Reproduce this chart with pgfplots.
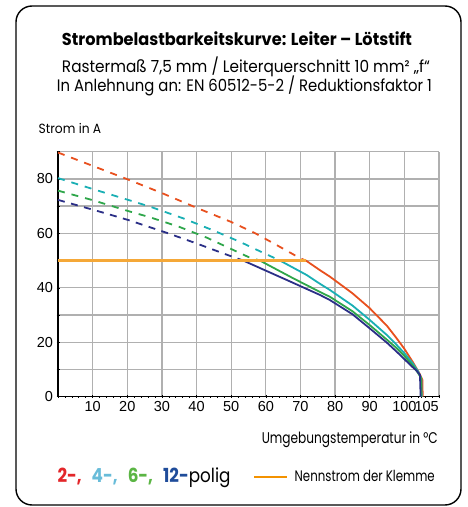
\documentclass[border=0pt]{standalone}
\usepackage{pgfplots}
\pgfplotsset{compat=1.18}
\usepackage{fontspec}
\setmainfont{Poppins}
\newfontfamily\arial{Liberation Sans}
\definecolor{cRed}{HTML}{E8501E}
\definecolor{cCyan}{HTML}{1AAFB4}
\definecolor{cGreen}{HTML}{2EA64A}
\definecolor{cBlue}{HTML}{2B2F87}
\definecolor{cOrange}{HTML}{F5A838}
\definecolor{cLegOrange}{HTML}{F39200}
\definecolor{tRed}{HTML}{E3262A}
\definecolor{tCyan}{HTML}{68BCD9}
\definecolor{tGreen}{HTML}{5BB544}
\definecolor{tBlue}{HTML}{1F4C9A}
\definecolor{gridgray}{HTML}{B0B0B0}
% fit text to width W and cap height H
\newcommand\fit[3]{\resizebox{#1}{#2}{\smash{#3}\vphantom{H}}}
\begin{document}
\begin{tikzpicture}[x=1pt,y=1pt]
\path[use as bounding box] (0,0) rectangle (467,507);
\draw[line width=1.4pt, rounded corners=16pt] (16,2) rectangle (461,501);
\node[anchor=base, inner sep=0] at (237,461.3) {\fit{350pt}{12pt}{\textbf{Strombelastbarkeitskurve: Leiter – Lötstift}}};
\node[anchor=base, inner sep=0] at (246,434.7) {\fit{368pt}{11.6pt}{Rastermaß 7,5 mm / Leiterquerschnitt 10 mm² „f“}};
\node[anchor=base, inner sep=0] at (244.5,415.3) {\fit{375pt}{11.6pt}{In Anlehnung an: EN 60512-5-2 / Reduktionsfaktor 1}};
\node[anchor=base west, inner sep=0] at (38.5,373) {\fit{62.5pt}{9.3pt}{Strom in A}};
\node[anchor=base east, inner sep=0] at (438,63.5) {\fit{176pt}{10.8pt}{Umgebungstemperatur in °C}};
\node[anchor=base west, inner sep=0] at (57.3,25) {\fit{173pt}{13.5pt}{\textbf{\color{tRed}2-,}\hspace{0.6em}\textbf{\color{tCyan}4-,}\hspace{0.6em}\textbf{\color{tGreen}6-,}\hspace{0.6em}\textbf{\color{tBlue}12-}polig}};
\draw[cLegOrange, line width=2.2pt] (254,30) -- (286.5,30);
\node[anchor=base west, inner sep=0] at (294.5,25) {\fit{140pt}{10.6pt}{Nennstrom der Klemme}};
\begin{axis}[
  at={(58pt,110.3pt)}, anchor=south west,
  scale only axis, width=381pt, height=245pt,
  xmin=0, xmax=110, ymin=0, ymax=90,
  axis x line*=bottom, axis y line*=left,
  axis line style={black, line width=1.2pt, -},
  xtick={0,10,...,110},
  xticklabels={,10,20,30,40,50,60,70,80,90,100,},
  extra x ticks={105}, extra x tick labels={105},
  extra x tick style={grid=none, xticklabel style={xshift=5pt}},
  ytick={0,10,...,90},
  yticklabels={0,,20,,40,,60,,80,},
  minor x tick num=4, minor y tick num=4,
  grid=major,
  major grid style={color=gridgray, line width=1.3pt},
  tick style={black, line width=0.6pt},
  major tick length=3pt, minor tick length=2pt, tick align=center,
  ticklabel style={font=\arial\fontsize{14.5}{14.5}\selectfont},
  /pgf/number format/assume math mode=true,
  clip=false,
]
% 2-polig
\addplot[cRed, line width=1.8pt, dash pattern=on 7pt off 7pt] coordinates {
(0,89.7) (10,84.8) (20,79.9) (30,74.8) (40,69.4) (50,64.2) (57,60.0) (63,55.8) (70,50.8) (71.6,50)};
\addplot[cRed, line width=1.8pt] coordinates {
(71.6,50) (75.6,46.5) (78.5,44.1) (80,42.7) (85,38.0) (90,32.5) (95,26.0) (97.8,21.4) (100,17.6) (102.5,12.6) (104.5,8.2) (105.2,6.2) (105.3,0)};
% 4-polig
\addplot[cCyan, line width=1.8pt, dash pattern=on 7pt off 7pt] coordinates {
(0,80.3) (10,76.3) (20,72.4) (26.6,69.8) (36.2,65.5) (45,61.0) (52.5,56.9) (58,53.6) (64.1,50)};
\addplot[cCyan, line width=1.8pt] coordinates {
(64.1,50) (71.8,44.7) (75.6,41.5) (78.5,39.2) (85,33.5) (90,28.2) (95,22.6) (97.8,19.0) (100,16.0) (102.5,12.1) (104,9.2) (104.9,6.7) (105,0)};
% 6-polig
\addplot[cGreen, line width=1.8pt, dash pattern=on 7pt off 7pt] coordinates {
(0,75.7) (10,72.2) (20.8,68.0) (26.6,65.9) (35,62.4) (43,58.4) (50.6,53.9) (55,51.3) (58.3,50)};
\addplot[cGreen, line width=1.8pt] coordinates {
(58.3,50) (67.9,43.5) (75.6,38.5) (78.5,36.7) (85,31.4) (90,26.3) (95,20.9) (97.8,17.8) (100,15.0) (102.5,11.3) (103.8,9.0) (104.8,6.9) (104.9,0)};
% 12-polig
\addplot[cBlue, line width=1.8pt, dash pattern=on 7pt off 6.5pt] coordinates {
(0,72.3) (13.1,67.6) (20.3,64.9) (31.4,60.2) (40,56.3) (48,52.5) (53.5,50)};
\addplot[cBlue, line width=1.8pt] coordinates {
(53.5,50) (66,42.9) (75.6,37.4) (78.5,35.5) (85,30.3) (90,25.1) (95,19.8) (97.8,16.5) (100,13.8) (102,11.3) (103.5,9.6) (104.5,8.0) (104.7,0)};
% Nennstrom
\addplot[cOrange, line width=2.2pt] coordinates {(0,50) (71.5,50)};
\end{axis}
\end{tikzpicture}
\end{document}
